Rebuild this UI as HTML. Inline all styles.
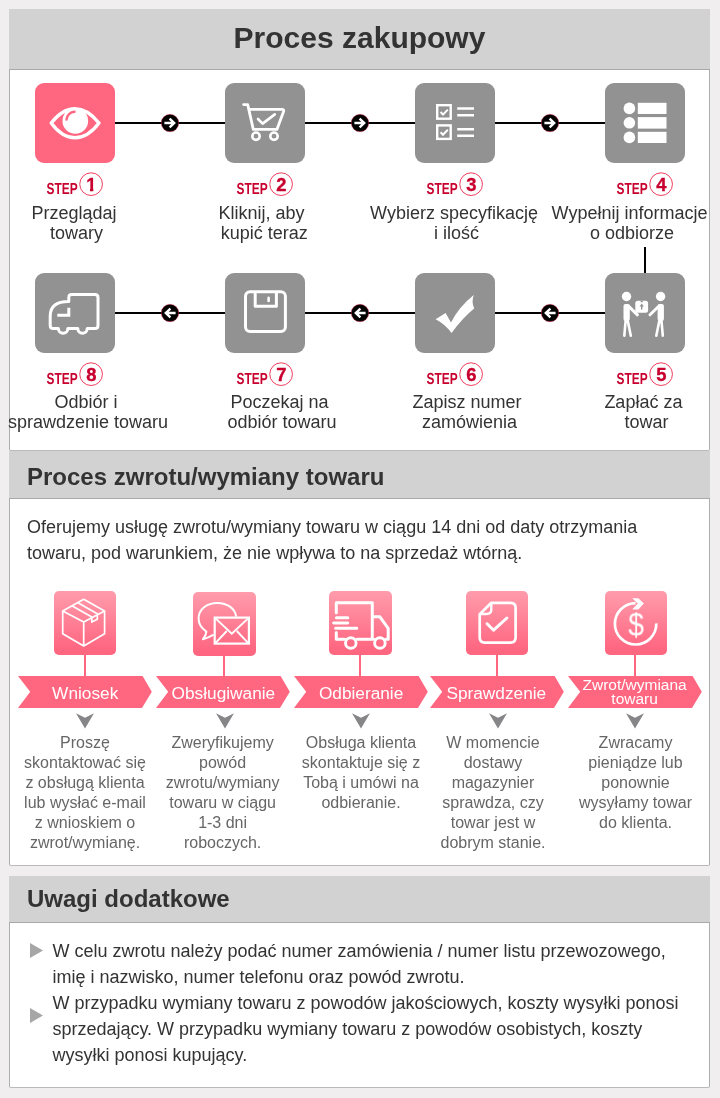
<!DOCTYPE html>
<html lang="pl">
<head>
<meta charset="utf-8">
<title>Proces zakupowy</title>
<style>
*{box-sizing:border-box;margin:0;padding:0}
html,body{width:720px;height:1098px;overflow:hidden}
body{background:#f0eeef;font-family:"Liberation Sans", sans-serif;color:#333;position:relative}
#w{position:absolute;left:0;top:0;width:720px;height:1098px;will-change:transform}
.a{position:absolute}
.hd{position:absolute;left:9px;width:701px;background:#d2d2d2;border-bottom:1px solid #a9a9a9}
.bd{position:absolute;left:9px;width:701px;background:#fff;border:1px solid #adadad;border-bottom-color:#bababa;border-top:0;border-radius:0 0 2px 2px}
.h1{position:absolute;left:9px;width:701px;text-align:center;font-weight:bold;font-size:30px;line-height:34px;white-space:nowrap}
.h2{position:absolute;left:27px;font-weight:bold;font-size:24px;line-height:28px;white-space:nowrap}
.ic{position:absolute;width:80px;height:80px;border-radius:9px;background:#929292}
.ic svg{position:absolute;left:0;top:0}
.ln{position:absolute;background:#000}
.st{position:absolute;font-size:18px;line-height:20px;text-align:center;white-space:pre;width:200px;color:#333}
.p{position:absolute;font-size:18px;line-height:26px;white-space:nowrap;color:#333}
.pk{position:absolute;border-radius:5px;background:linear-gradient(#ff9cac 0%,#ff6882 88%,#ff6680 100%)}
.pk svg{position:absolute;left:0;top:0}
.cn{position:absolute;width:2px;background:#ff6680}
.rb{position:absolute;top:676px;height:32px}
.rt{position:absolute;color:#fff;text-align:center;white-space:nowrap;width:134px}
.ct{position:absolute;font-size:16px;line-height:20px;text-align:center;white-space:pre;width:136px;color:#666}
</style>
</head>
<body>
<div id="w">
<svg class="a" width="0" height="0"><defs><clipPath id="c1"><path d="M38,5H48.3V22H45V18H38Z"/></clipPath></defs></svg>
<div class="hd" style="top:9px;height:61px"></div>
<div class="bd" style="top:70px;height:381px"></div>
<h1 class="h1" style="top:21px">Proces zakupowy</h1>
<div class="ln" style="left:115px;top:122px;width:490px;height:2px"></div>
<div class="ln" style="left:115px;top:312px;width:490px;height:2px"></div>
<div class="ln" style="left:644px;top:247px;width:2px;height:26px"></div>
<svg class="a" style="left:159px;top:111.75px" width="22" height="22" viewBox="-11 -11 22 22"><circle r="8.75" fill="#000" stroke="#ff2d55" stroke-opacity=".5" stroke-width=".8"/><path d="M-5.6,0H4.6 M-0.4,-4.4L4.2,0L-0.4,4.4" fill="none" stroke="#fff" stroke-width="2.4"/></svg>
<svg class="a" style="left:159.3px;top:301.75px" width="22" height="22" viewBox="-11 -11 22 22"><circle r="8.75" fill="#000" stroke="#ff2d55" stroke-opacity=".5" stroke-width=".8"/><path d="M5.6,0H-4.6 M0.4,-4.4L-4.2,0L0.4,4.4" fill="none" stroke="#fff" stroke-width="2.4"/></svg>
<svg class="a" style="left:349px;top:111.75px" width="22" height="22" viewBox="-11 -11 22 22"><circle r="8.75" fill="#000" stroke="#ff2d55" stroke-opacity=".5" stroke-width=".8"/><path d="M-5.6,0H4.6 M-0.4,-4.4L4.2,0L-0.4,4.4" fill="none" stroke="#fff" stroke-width="2.4"/></svg>
<svg class="a" style="left:349.3px;top:301.75px" width="22" height="22" viewBox="-11 -11 22 22"><circle r="8.75" fill="#000" stroke="#ff2d55" stroke-opacity=".5" stroke-width=".8"/><path d="M5.6,0H-4.6 M0.4,-4.4L-4.2,0L0.4,4.4" fill="none" stroke="#fff" stroke-width="2.4"/></svg>
<svg class="a" style="left:539px;top:111.75px" width="22" height="22" viewBox="-11 -11 22 22"><circle r="8.75" fill="#000" stroke="#ff2d55" stroke-opacity=".5" stroke-width=".8"/><path d="M-5.6,0H4.6 M-0.4,-4.4L4.2,0L-0.4,4.4" fill="none" stroke="#fff" stroke-width="2.4"/></svg>
<svg class="a" style="left:539.3px;top:301.75px" width="22" height="22" viewBox="-11 -11 22 22"><circle r="8.75" fill="#000" stroke="#ff2d55" stroke-opacity=".5" stroke-width=".8"/><path d="M5.6,0H-4.6 M0.4,-4.4L-4.2,0L0.4,4.4" fill="none" stroke="#fff" stroke-width="2.4"/></svg>
<div class="ic" style="left:35px;top:83px;background:#ff6680"><svg width="80" height="80" viewBox="0 0 80 80"><path d="M16.2,40 C24,30 32,25.7 40,25.7 C48,25.7 56,30 64,40 C56,50.6 48,54.8 40,54.8 C32,54.8 24,50.6 16.2,40Z" fill="none" stroke="#fff" stroke-width="3.4" stroke-linejoin="round"/><circle cx="40.3" cy="37.9" r="12.8" fill="#fff"/><path d="M31.5,36.6 A8.6,8.6 0 0 1 39.5,28.8" fill="none" stroke="#ff6680" stroke-width="2.4" stroke-linecap="round"/></svg></div>
<div class="ic" style="left:225px;top:83px;background:#929292"><svg width="80" height="80" viewBox="0 0 80 80"><path d="M18.6,21.6H22.7L28.3,46.4H51.9L58.5,28.8Q59.4,26.4 57,26.4H24" fill="none" stroke="#fff" stroke-width="2.8" stroke-linejoin="round" stroke-linecap="round"/><circle cx="31" cy="53.2" r="3.7" fill="none" stroke="#fff" stroke-width="2.6"/><circle cx="49" cy="53.2" r="3.7" fill="none" stroke="#fff" stroke-width="2.6"/><path d="M33,36L37.6,40.6L49.8,31.4" fill="none" stroke="#fff" stroke-width="2.6" stroke-linecap="round" stroke-linejoin="round"/></svg></div>
<div class="ic" style="left:415px;top:83px;background:#929292"><svg width="80" height="80" viewBox="0 0 80 80"><rect x="22.2" y="22.2" width="13.5" height="13.5" fill="none" stroke="#fff" stroke-width="2.4"/><rect x="22.2" y="42.4" width="13.5" height="13.5" fill="none" stroke="#fff" stroke-width="2.4"/><path d="M25.6,29L28,31.6L32.8,26.6" fill="none" stroke="#fff" stroke-width="2"/><path d="M25.6,49.2L28,51.8L32.8,46.8" fill="none" stroke="#fff" stroke-width="2"/><path d="M42.2,25.6H59M42.2,32.3H59M42.2,46.2H59M42.2,52.8H59" stroke="#fff" stroke-width="2.5"/></svg></div>
<div class="ic" style="left:605px;top:83px;background:#929292"><svg width="80" height="80" viewBox="0 0 80 80"><circle cx="24.4" cy="25.4" r="5.8" fill="#fff"/><circle cx="24.4" cy="39.8" r="5.8" fill="#fff"/><circle cx="24.4" cy="54.4" r="5.8" fill="#fff"/><rect x="32.8" y="19.8" width="28.7" height="11.2" fill="#fff"/><rect x="32.8" y="34.1" width="28.7" height="11.5" fill="#fff"/><rect x="32.8" y="48.8" width="28.7" height="11.2" fill="#fff"/></svg></div>
<div class="ic" style="left:35px;top:273px;background:#929292"><svg width="80" height="80" viewBox="0 0 80 80"><path d="M33.8,28.5V24.5Q33.8,21.6 36.8,21.6H60Q63,21.6 63,24.6V52.6Q63,55.6 60,55.6H52.2A4.7,4.7 0 0 1 42.8,55.6H32.8A4.7,4.7 0 0 1 23.4,55.6H18.2Q15.2,55.6 15.2,52.6V43Q15.2,28.5 33.8,28.5Z" fill="none" stroke="#fff" stroke-width="3" stroke-linejoin="round"/><path d="M33.8,34.8V42.2H22.3" fill="none" stroke="#fff" stroke-width="3"/></svg></div>
<div class="ic" style="left:225px;top:273px;background:#929292"><svg width="80" height="80" viewBox="0 0 80 80"><rect x="20.5" y="18.8" width="39.9" height="39.8" rx="4.5" fill="none" stroke="#fff" stroke-width="3"/><path d="M30.2,19V33.2H51.4V19" fill="none" stroke="#fff" stroke-width="3" stroke-linejoin="round"/><rect x="42.3" y="23.6" width="2.6" height="5.6" rx="1.3" fill="#fff"/></svg></div>
<div class="ic" style="left:415px;top:273px;background:#929292"><svg width="80" height="80" viewBox="0 0 80 80"><path d="M20.6,46.2L30.6,40L36,49.4Q44,33.5 58.8,21.9Q56.2,28.5 59.2,35.6Q48,44.5 36.6,60Q30,51 20.6,46.2Z" fill="#fff"/></svg></div>
<div class="ic" style="left:605px;top:273px;background:#929292"><svg width="80" height="80" viewBox="0 0 80 80"><circle cx="21.5" cy="23.5" r="4.7" fill="#fff"/><circle cx="55.6" cy="23.5" r="4.7" fill="#fff"/><rect x="18.5" y="31" width="6.3" height="17" rx="2" fill="#fff"/><rect x="52.6" y="31" width="6.3" height="17" rx="2" fill="#fff"/><path d="M23.5,33.2L32.4,41.8M53.8,33.2L45,41.8" stroke="#fff" stroke-width="3" stroke-linecap="round"/><path d="M20.8,46L19.3,62.7M22.4,46L25.8,62.7M54.7,46L51.3,62.7M56.3,46L57.8,62.7" stroke="#fff" stroke-width="2.6" stroke-linecap="round"/><rect x="30.3" y="27.8" width="12.8" height="12" rx="2.5" fill="#fff"/><path d="M36.7,30.6L34.6,33.4H36V36.6H37.4V33.4H38.8Z" fill="#929292"/><path d="M35.6,27.8H37.8V29.2H35.6Z" fill="#929292"/></svg></div>
<svg class="a" style="left:44.5px;top:170px" width="62" height="30" viewBox="0 0 62 30"><text transform="translate(1.6,24) rotate(0.05) scale(0.745,1)" font-family='"Liberation Sans", sans-serif' font-weight="bold" font-size="16" fill="#c8002e">STEP</text><circle cx="46.1" cy="14.15" r="11.35" fill="none" stroke="#ee3354" stroke-width=".95"/><text x="46.3" y="20.9" text-anchor="middle" font-family='"Liberation Sans", sans-serif' font-weight="bold" font-size="18.4" fill="#c8002e" stroke="#c8002e" stroke-width=".35" clip-path="url(#c1)">1</text></svg>
<svg class="a" style="left:44.5px;top:360px" width="62" height="30" viewBox="0 0 62 30"><text transform="translate(1.6,24) rotate(0.05) scale(0.745,1)" font-family='"Liberation Sans", sans-serif' font-weight="bold" font-size="16" fill="#c8002e">STEP</text><circle cx="46.1" cy="14.15" r="11.35" fill="none" stroke="#ee3354" stroke-width=".95"/><text x="46.3" y="20.9" text-anchor="middle" font-family='"Liberation Sans", sans-serif' font-weight="bold" font-size="18.4" fill="#c8002e" stroke="#c8002e" stroke-width=".35">8</text></svg>
<svg class="a" style="left:234.5px;top:170px" width="62" height="30" viewBox="0 0 62 30"><text transform="translate(1.6,24) rotate(0.05) scale(0.745,1)" font-family='"Liberation Sans", sans-serif' font-weight="bold" font-size="16" fill="#c8002e">STEP</text><circle cx="46.1" cy="14.15" r="11.35" fill="none" stroke="#ee3354" stroke-width=".95"/><text x="46.3" y="20.9" text-anchor="middle" font-family='"Liberation Sans", sans-serif' font-weight="bold" font-size="18.4" fill="#c8002e" stroke="#c8002e" stroke-width=".35">2</text></svg>
<svg class="a" style="left:234.5px;top:360px" width="62" height="30" viewBox="0 0 62 30"><text transform="translate(1.6,24) rotate(0.05) scale(0.745,1)" font-family='"Liberation Sans", sans-serif' font-weight="bold" font-size="16" fill="#c8002e">STEP</text><circle cx="46.1" cy="14.15" r="11.35" fill="none" stroke="#ee3354" stroke-width=".95"/><text x="46.3" y="20.9" text-anchor="middle" font-family='"Liberation Sans", sans-serif' font-weight="bold" font-size="18.4" fill="#c8002e" stroke="#c8002e" stroke-width=".35">7</text></svg>
<svg class="a" style="left:424.5px;top:170px" width="62" height="30" viewBox="0 0 62 30"><text transform="translate(1.6,24) rotate(0.05) scale(0.745,1)" font-family='"Liberation Sans", sans-serif' font-weight="bold" font-size="16" fill="#c8002e">STEP</text><circle cx="46.1" cy="14.15" r="11.35" fill="none" stroke="#ee3354" stroke-width=".95"/><text x="46.3" y="20.9" text-anchor="middle" font-family='"Liberation Sans", sans-serif' font-weight="bold" font-size="18.4" fill="#c8002e" stroke="#c8002e" stroke-width=".35">3</text></svg>
<svg class="a" style="left:424.5px;top:360px" width="62" height="30" viewBox="0 0 62 30"><text transform="translate(1.6,24) rotate(0.05) scale(0.745,1)" font-family='"Liberation Sans", sans-serif' font-weight="bold" font-size="16" fill="#c8002e">STEP</text><circle cx="46.1" cy="14.15" r="11.35" fill="none" stroke="#ee3354" stroke-width=".95"/><text x="46.3" y="20.9" text-anchor="middle" font-family='"Liberation Sans", sans-serif' font-weight="bold" font-size="18.4" fill="#c8002e" stroke="#c8002e" stroke-width=".35">6</text></svg>
<svg class="a" style="left:614.5px;top:170px" width="62" height="30" viewBox="0 0 62 30"><text transform="translate(1.6,24) rotate(0.05) scale(0.745,1)" font-family='"Liberation Sans", sans-serif' font-weight="bold" font-size="16" fill="#c8002e">STEP</text><circle cx="46.1" cy="14.15" r="11.35" fill="none" stroke="#ee3354" stroke-width=".95"/><text x="46.3" y="20.9" text-anchor="middle" font-family='"Liberation Sans", sans-serif' font-weight="bold" font-size="18.4" fill="#c8002e" stroke="#c8002e" stroke-width=".35">4</text></svg>
<svg class="a" style="left:614.5px;top:360px" width="62" height="30" viewBox="0 0 62 30"><text transform="translate(1.6,24) rotate(0.05) scale(0.745,1)" font-family='"Liberation Sans", sans-serif' font-weight="bold" font-size="16" fill="#c8002e">STEP</text><circle cx="46.1" cy="14.15" r="11.35" fill="none" stroke="#ee3354" stroke-width=".95"/><text x="46.3" y="20.9" text-anchor="middle" font-family='"Liberation Sans", sans-serif' font-weight="bold" font-size="18.4" fill="#c8002e" stroke="#c8002e" stroke-width=".35">5</text></svg>
<div class="st" style="left:-26px;top:203px">Przeglądaj<br>&nbsp;towary</div>
<div class="st" style="left:164px;top:203px"><span style="position:relative;left:-2.5px">Kliknij, aby</span><br><span style="position:relative;left:-2.3px">&nbsp;kupić teraz</span></div>
<div class="st" style="left:354px;top:203px">Wybierz specyfikację<br>&nbsp;i ilość</div>
<div class="st" style="left:529.5px;top:203px">Wypełnij informacje<br>&nbsp;o odbiorze</div>
<div class="st" style="left:-12px;top:392px"><span style="position:relative;left:-2px">Odbiór i</span><br>sprawdzenie towaru</div>
<div class="st" style="left:182px;top:392px"><span style="position:relative;left:-2.5px">Poczekaj na</span><br>odbiór towaru</div>
<div class="st" style="left:367px;top:392px">Zapisz numer<br>&nbsp;zamówienia</div>
<div class="st" style="left:544px;top:392px"><span style="position:relative;left:-0.6px">Zapłać za</span><br>&nbsp;towar</div>
<div class="hd" style="top:451px;height:48px"></div>
<div class="bd" style="top:499px;height:367px"></div>
<h2 class="h2" style="top:463px">Proces zwrotu/wymiany towaru</h2>
<p class="p" style="left:27px;top:514px">Oferujemy usługę zwrotu/wymiany towaru w ciągu 14 dni od daty otrzymania<br>towaru, pod warunkiem, że nie wpływa to na sprzedaż wtórną.</p>
<div class="cn" style="left:84.4px;top:651px;height:26px"></div>
<div class="pk" style="left:54px;top:591px;width:62px;height:63.5px"><svg width="62" height="64" viewBox="0 0 62 64"><path d="M29.7,8.3L50.6,20V42.8L29.7,55L8.7,42.8V20Z M8.7,20L29.7,31.1L50.6,20 M29.7,31.1V55 M18.3,15L37.8,26.1V31.1L43.3,28.3V22.8L24.4,11.9" fill="none" stroke="#fff" stroke-width="1.7" stroke-linejoin="round"/></svg></div>
<div class="cn" style="left:223.2px;top:652px;height:25px"></div>
<div class="pk" style="left:193.1px;top:592px;width:62.8px;height:63.5px"><svg width="62.8" height="64" viewBox="0 0 62.8 64"><path d="M20.6,42.6Q15,46 9.9,47.2Q13,43.6 13.4,39.6Q5.6,34.6 5.6,26.6C5.6,17.2 13.8,10.9 24.4,10.9C34.2,10.9 42,16.4 43.2,24.6" fill="none" stroke="#fff" stroke-width="2" stroke-linejoin="round"/><rect x="21.7" y="25.6" width="34.2" height="26" fill="none" stroke="#fff" stroke-width="2.2"/><path d="M21.7,25.6L38.8,41.8L55.9,25.6 M22.1,51.4L33.8,39 M55.5,51.4L43.8,39" fill="none" stroke="#fff" stroke-width="1.9"/></svg></div>
<div class="cn" style="left:359.2px;top:651px;height:26px"></div>
<div class="pk" style="left:329.1px;top:591px;width:62.6px;height:63.5px"><svg width="62.6" height="64" viewBox="0 0 62.6 64"><path d="M7.3,21.8V11.8H43.3V48.2H28 M15.8,48.2H7.3V41.6 M43.3,25.8H50.9L59.2,37.4V48.2H57 M44.8,48.2H43.3" fill="none" stroke="#fff" stroke-width="3" stroke-linejoin="round" stroke-linecap="round"/><path d="M7.4,26.8H18.8M4.6,32H18.8M6.6,37.3H27.8" stroke="#fff" stroke-width="3" stroke-linecap="round"/><circle cx="21.8" cy="52" r="5.3" fill="none" stroke="#fff" stroke-width="2.9"/><circle cx="50.9" cy="52" r="5.3" fill="none" stroke="#fff" stroke-width="2.9"/></svg></div>
<div class="cn" style="left:496.2px;top:651px;height:26px"></div>
<div class="pk" style="left:466.3px;top:591px;width:62px;height:63.5px"><svg width="62" height="64" viewBox="0 0 62 64"><path d="M25.3,11.8H44.6Q49.6,11.8 49.6,16.8V46.6Q49.6,51.6 44.6,51.6H18.7Q13.7,51.6 13.7,46.6V23.3Z" fill="none" stroke="#fff" stroke-width="2.7" stroke-linejoin="round"/><path d="M25.3,12V18.5Q25.3,23 20.5,23H14.5" fill="none" stroke="#fff" stroke-width="2.4"/><path d="M21.1,32.8L27.6,39.2L40.9,27" fill="none" stroke="#fff" stroke-width="3" stroke-linecap="round" stroke-linejoin="round"/></svg></div>
<div class="cn" style="left:633.9px;top:651px;height:26px"></div>
<div class="pk" style="left:605.2px;top:591px;width:62px;height:63.5px"><svg width="62" height="64" viewBox="0 0 62 64"><path d="M30.6,12.1A20.7,20.7 0 1 0 51.3,32.4" fill="none" stroke="#fff" stroke-width="2.7"/><path d="M27.2,7.2H33.3L38.9,12.6L33.3,18.6H27.2L32.8,12.6Z" fill="#fff"/><text transform="translate(31.1,44.3) scale(0.93,1)" text-anchor="middle" font-family='"Liberation Sans", sans-serif' font-size="30.5" fill="#fff">$</text></svg></div>
<svg class="rb" style="left:18.1px" width="133.8" height="32" viewBox="0 0 133.8 32"><path d="M0,0H124.6L133.8,15.8L124.0,32H0L12.2,15.8Z" fill="#ff6680"/></svg>
<div class="rt" style="left:18.2px;top:683px;font-size:17.25px;line-height:20px">Wniosek</div>
<svg class="a" style="left:75.15px;top:712px" width="20" height="18" viewBox="0 0 20 18"><path d="M1,1.3L10,5.8L19,1.3L10,16.6Z" fill="#868688"/></svg>
<svg class="rb" style="left:156.2px" width="133.8" height="32" viewBox="0 0 133.8 32"><path d="M0,0H124.6L133.8,15.8L124.0,32H0L12.2,15.8Z" fill="#ff6680"/></svg>
<div class="rt" style="left:156.4px;top:683px;font-size:17.25px;line-height:20px">Obsługiwanie</div>
<svg class="a" style="left:214.60px;top:712px" width="20" height="18" viewBox="0 0 20 18"><path d="M1,1.3L10,5.8L19,1.3L10,16.6Z" fill="#868688"/></svg>
<svg class="rb" style="left:294.3px" width="133.8" height="32" viewBox="0 0 133.8 32"><path d="M0,0H124.6L133.8,15.8L124.0,32H0L12.2,15.8Z" fill="#ff6680"/></svg>
<div class="rt" style="left:294.1px;top:683px;font-size:17.25px;line-height:20px">Odbieranie</div>
<svg class="a" style="left:350.60px;top:712px" width="20" height="18" viewBox="0 0 20 18"><path d="M1,1.3L10,5.8L19,1.3L10,16.6Z" fill="#868688"/></svg>
<svg class="rb" style="left:430.1px" width="133.8" height="32" viewBox="0 0 133.8 32"><path d="M0,0H124.6L133.8,15.8L124.0,32H0L12.2,15.8Z" fill="#ff6680"/></svg>
<div class="rt" style="left:429.3px;top:683px;font-size:17.25px;line-height:20px">Sprawdzenie</div>
<svg class="a" style="left:487.60px;top:712px" width="20" height="18" viewBox="0 0 20 18"><path d="M1,1.3L10,5.8L19,1.3L10,16.6Z" fill="#868688"/></svg>
<svg class="rb" style="left:568.2px" width="133.8" height="32" viewBox="0 0 133.8 32"><path d="M0,0H124.6L133.8,15.8L124.0,32H0L12.2,15.8Z" fill="#ff6680"/></svg>
<div class="rt" style="left:567.6px;top:677.5px;font-size:15.5px;line-height:14px">Zwrot/wymiana<br>towaru</div>
<svg class="a" style="left:625.40px;top:712px" width="20" height="18" viewBox="0 0 20 18"><path d="M1,1.3L10,5.8L19,1.3L10,16.6Z" fill="#868688"/></svg>
<div class="ct" style="left:17px;top:733px">Proszę
skontaktować się
z obsługą klienta
lub wysłać e-mail
z wnioskiem o
zwrot/wymianę.</div>
<div class="ct" style="left:154.6px;top:733px">Zweryfikujemy
powód
zwrotu/wymiany
towaru w ciągu
1-3 dni
roboczych.</div>
<div class="ct" style="left:293px;top:733px">Obsługa klienta
skontaktuje się z
Tobą i umówi na
odbieranie.</div>
<div class="ct" style="left:425px;top:733px">W momencie
dostawy
magazynier
sprawdza, czy
towar jest w
dobrym stanie.</div>
<div class="ct" style="left:567.5px;top:733px">Zwracamy
pieniądze lub
ponownie
wysyłamy towar
do klienta.</div>
<div class="hd" style="top:876px;height:47px"></div>
<div class="bd" style="top:923px;height:165px"></div>
<h2 class="h2" style="top:885px">Uwagi dodatkowe</h2>
<svg class="a" style="left:29px;top:941px" width="16" height="19" viewBox="0 0 16 19"><path d="M1,2L14,9.5L1,17Z" fill="#a6a6a6"/></svg>
<svg class="a" style="left:29px;top:1006px" width="16" height="19" viewBox="0 0 16 19"><path d="M1,2L14,9.5L1,17Z" fill="#a6a6a6"/></svg>
<p class="p" style="left:52.4px;top:938px">W celu zwrotu należy podać numer zamówienia / numer listu przewozowego,<br>imię i nazwisko, numer telefonu oraz powód zwrotu.<br>W przypadku wymiany towaru z powodów jakościowych, koszty wysyłki ponosi<br>sprzedający. W przypadku wymiany towaru z powodów osobistych, koszty<br>wysyłki ponosi kupujący.</p>
</div>
</body>
</html>
